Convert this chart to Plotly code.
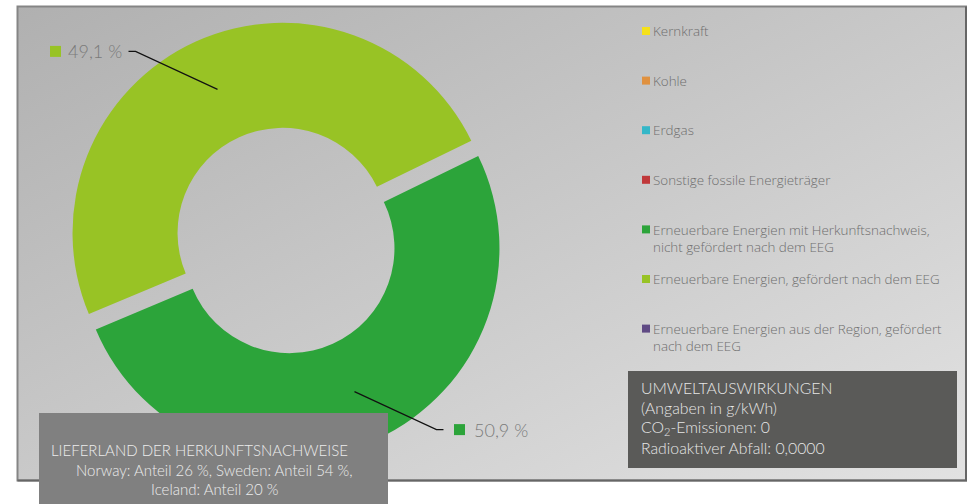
import base64, math
import plotly.graph_objects as go

# ---------------- data ----------------
categories = [
    "Kernkraft",
    "Kohle",
    "Erdgas",
    "Sonstige fossile Energieträger",
    "Erneuerbare Energien mit Herkunftsnachweis,<br>nicht gefördert nach dem EEG",
    "Erneuerbare Energien, gefördert nach dem EEG",
    "Erneuerbare Energien aus der Region, gefördert<br>nach dem EEG",
]
values = [0, 0, 0, 0, 50.9, 49.1, 0]
value_labels = ["0 %", "0 %", "0 %", "0 %", "50,9 %", "49,1 %", "0 %"]
colors = ["#f5e11a", "#e0913f", "#34b7c8", "#c0383a", "#2ca43a", "#98c325", "#5f4a84"]

env_lines = ["UMWELTAUSWIRKUNGEN", "(Angaben in g/kWh)", "CO<sub>2</sub>-Emissionen: 0",
             "Radioaktiver Abfall: 0,0000"]
country_title = "LIEFERLAND DER HERKUNFTSNACHWEISE"
country_lines = ["Norway: Anteil 26 %, Sweden: Anteil 54 %,", "Iceland: Anteil 20 %"]

# ---------------- layout constants ----------------
W, H = 971, 504
FONT = "Lato"
LEG_FONT = "Open Sans"
CX, CY, R = 286, 240.5, 210.0
HOLE = 0.5
PULL = 0.04
ROTATION = 64


def px(x, y):
    return x / W, 1 - y / H


half = R * (1 + PULL)
dom_x = [(CX - half) / W, (CX + half) / W]
dom_y = [1 - (CY + half) / H, 1 - (CY - half) / H]

fig = go.Figure()
fig.add_trace(go.Pie(
    labels=categories, values=values, sort=False, direction="clockwise",
    rotation=ROTATION, hole=HOLE, pull=[PULL] * len(values),
    marker=dict(colors=colors, line=dict(width=0)),
    textinfo="none", hoverinfo="label+percent", showlegend=False,
    domain=dict(x=dom_x, y=dom_y),
))

shapes = []
annotations = []

# background gradient (as an svg image)
BX0, BY0, BX1, BY1 = 17.5, 6.5, 966, 480.5
svg = ('<svg xmlns="http://www.w3.org/2000/svg" width="948" height="474" preserveAspectRatio="none">'
       '<defs><linearGradient id="g" x1="0" y1="0" x2="1" y2="1">'
       '<stop offset="0" stop-color="#b0b0b0"/><stop offset="1" stop-color="#e2e2e2"/>'
       '</linearGradient></defs><rect width="100%" height="100%" fill="url(#g)"/></svg>')
src = "data:image/svg+xml;base64," + base64.b64encode(svg.encode()).decode()
images = [dict(source=src, xref="paper", yref="paper", x=BX0 / W, y=1 - BY0 / H,
               sizex=(BX1 - BX0) / W, sizey=(BY1 - BY0) / H, sizing="stretch",
               xanchor="left", yanchor="top", layer="below")]

# frame: light top/left, darker right/bottom
x0, y0 = px(BX0, BY0)
x1, y1 = px(BX1, BY1)
shapes.append(dict(type="rect", xref="paper", yref="paper", x0=x0, y0=y1, x1=x1, y1=y0,
                   line=dict(color="#858585", width=2), layer="above"))
shapes.append(dict(type="path", xref="paper", yref="paper",
                   path="M{},{} L{},{} L{},{}".format(x1, y0, x1, y1, x0, y1),
                   line=dict(color="#666666", width=2), layer="above"))

# leader lines + value labels, computed from the data
total = sum(values)
cum = 0
start = 90 - ROTATION
for v, lab, col in zip(values, value_labels, colors):
    if v > 0:
        mid = math.radians(start - 360 * (cum + v / 2) / total)
        rr = (HOLE * R + R) / 2 + PULL * R
        ax_, ay_ = CX + rr * math.cos(mid), CY - rr * math.sin(mid)
        sx = 1 if math.cos(mid) >= 0 else -1
        sy = 1 if math.sin(mid) >= 0 else -1
        ex, ey = ax_ + 82 * sx, ay_ - 38 * sy
        tx = ex + 7 * sx
        p = [px(ax_, ay_), px(ex, ey), px(tx, ey)]
        shapes.append(dict(type="path", xref="paper", yref="paper",
                           path="M{},{} L{},{} L{},{}".format(p[0][0], p[0][1], p[1][0], p[1][1], p[2][0], p[2][1]),
                           line=dict(color="#111111", width=1.2), layer="above"))
        if sx > 0:
            sq0 = tx + 10.5
            txt_x, anchor = tx + 29, "left"
        else:
            sq0 = tx - 78.5
            txt_x, anchor = tx - 5, "right"
        a, b = px(sq0, ey - 5.5)
        c, d = px(sq0 + 11, ey + 5.5)
        shapes.append(dict(type="rect", xref="paper", yref="paper", x0=a, y0=d, x1=c, y1=b,
                           fillcolor=col, line=dict(width=0), layer="above"))
        tx_, ty_ = px(txt_x, ey)
        annotations.append(dict(xref="paper", yref="paper", x=tx_, y=ty_, xanchor=anchor,
                                yanchor="middle", text=lab, showarrow=False,
                                font=dict(family=FONT, size=18, color="#7a7a7a", weight=300)))
    cum += v

# custom legend
LEG_SIZE = 13.4
LH = LEG_SIZE * 1.3
for i, (cat, col) in enumerate(zip(categories, colors)):
    yc = 31 + 49.6 * i
    a, b = px(642, yc - 4)
    c, d = px(650, yc + 4)
    shapes.append(dict(type="rect", xref="paper", yref="paper", x0=a, y0=d, x1=c, y1=b,
                       fillcolor=col, line=dict(width=0), layer="above"))
    nl = cat.count("<br>") + 1
    tx_, ty_ = px(651, yc + (nl - 1) * LH / 2)
    annotations.append(dict(xref="paper", yref="paper", x=tx_, y=ty_, xanchor="left",
                            yanchor="middle", align="left", text=cat, showarrow=False,
                            font=dict(family=LEG_FONT, size=LEG_SIZE, color="#6e6e6e", weight=300)))

# environment box
a, b = px(628, 371)
c, d = px(957, 468)
shapes.append(dict(type="rect", xref="paper", yref="paper", x0=a, y0=d, x1=c, y1=b,
                   fillcolor="#5a5a58", line=dict(width=0), layer="above"))
for j, line in enumerate(env_lines):
    tx_, ty_ = px(639, 387 + 20.3 * j)
    annotations.append(dict(xref="paper", yref="paper", x=tx_, y=ty_, xanchor="left",
                            yanchor="middle", text=line, showarrow=False,
                            font=dict(family=FONT, size=15.8, color="#e6e6e6", weight=300)))

# country box
a, b = px(39, 413)
c, d = px(388, 504)
shapes.append(dict(type="rect", xref="paper", yref="paper", x0=a, y0=d, x1=c, y1=b,
                   fillcolor="#808080", line=dict(width=0), layer="above"))
tx_, ty_ = px(49, 450)
annotations.append(dict(xref="paper", yref="paper", x=tx_, y=ty_, xanchor="left", yanchor="middle",
                        text=country_title, showarrow=False,
                        font=dict(family=FONT, size=15, color="#ececec", weight=300)))
for j, line in enumerate(country_lines):
    tx_, ty_ = px(214, 469.5 + 19.5 * j)
    annotations.append(dict(xref="paper", yref="paper", x=tx_, y=ty_, xanchor="center",
                            yanchor="middle", text=line, showarrow=False,
                            font=dict(family=FONT, size=15, color="#ececec", weight=300)))

fig.update_layout(
    width=W, height=H, margin=dict(l=0, r=0, t=0, b=0),
    paper_bgcolor="#ffffff", plot_bgcolor="#ffffff",
    shapes=shapes, annotations=annotations, images=images, showlegend=False,
    font=dict(family=FONT),
)
fig.write_html("out.html", config={"displayModeBar": False},
               post_script="document.body.style.margin='0';document.body.style.padding='0';"
                           "document.body.style.overflow='hidden';")
